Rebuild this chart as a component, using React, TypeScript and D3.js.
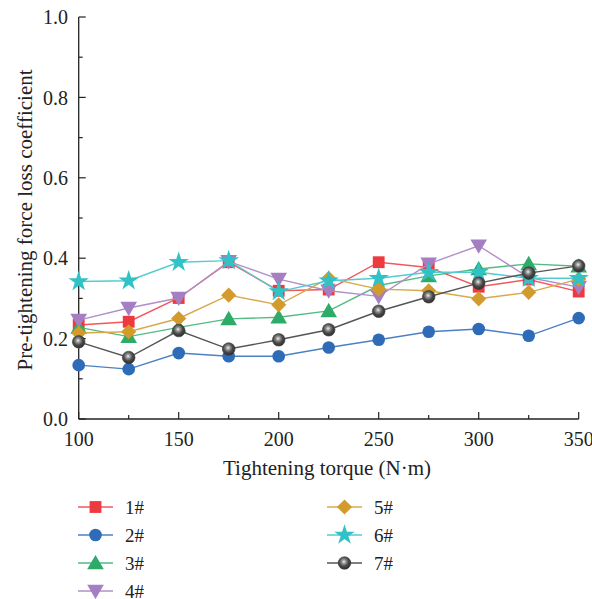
import React from "react";
import * as d3 from "d3";

const torques = [100, 125, 150, 175, 200, 225, 250, 275, 300, 325, 350];
const s1 = [0.234, 0.242, 0.301, 0.39, 0.319, 0.322, 0.39, 0.377, 0.329, 0.347, 0.317];
const s2 = [0.134, 0.124, 0.164, 0.156, 0.156, 0.178, 0.197, 0.217, 0.224, 0.207, 0.251];
const s3 = [0.228, 0.205, 0.228, 0.249, 0.253, 0.269, 0.332, 0.356, 0.373, 0.386, 0.38];
const s4 = [0.246, 0.276, 0.301, 0.392, 0.348, 0.319, 0.305, 0.386, 0.431, 0.352, 0.328];
const s5 = [0.214, 0.217, 0.25, 0.308, 0.284, 0.35, 0.323, 0.319, 0.299, 0.315, 0.348];
const s6 = [0.342, 0.344, 0.39, 0.394, 0.317, 0.344, 0.35, 0.365, 0.365, 0.35, 0.35];
const s7 = [0.192, 0.153, 0.22, 0.174, 0.197, 0.222, 0.268, 0.304, 0.338, 0.363, 0.381];
const seriesNames = ["1#", "2#", "3#", "4#", "5#", "6#", "7#"];
const seriesValues = [s1, s2, s3, s4, s5, s6, s7];
const xTicks = [100, 150, 200, 250, 300, 350];
const yTicks = [0, 0.2, 0.4, 0.6, 0.8, 1.0];

const colors = ["#ee3a3e", "#2f6cb8", "#2eab68", "#a57fc2", "#d29b2c", "#30c2c6", "#4a4a4a"];
const lineColors = ["#f0585b", "#4a80c4", "#52bb82", "#b08fcb", "#d8a94a", "#52ccd0", "#555555"];

const font = "'Liberation Serif', 'DejaVu Serif', serif";

function markerPath(i: number): { d: string; rot: number } {
  const sym = d3.symbol();
  switch (i) {
    case 0: return { d: sym.type(d3.symbolSquare).size(140)()!, rot: 0 };
    case 1: return { d: sym.type(d3.symbolCircle).size(125)()!, rot: 0 };
    case 2: return { d: sym.type(d3.symbolTriangle).size(120)()!, rot: 0 };
    case 3: return { d: sym.type(d3.symbolTriangle).size(120)()!, rot: 180 };
    case 4: return { d: sym.type(d3.symbolSquare).size(115)()!, rot: 45 };
    case 5: return { d: sym.type(d3.symbolStar).size(130)()!, rot: 0 };
    default: return { d: sym.type(d3.symbolCircle).size(125)()!, rot: 0 };
  }
}

function Marker({ i, x, y }: { i: number; x: number; y: number }) {
  const m = markerPath(i);
  const fill = i === 6 ? "url(#sphere)" : colors[i];
  const dy = i === 2 ? 1.5 : i === 3 ? -1.5 : 0;
  return (
    <path
      d={m.d}
      transform={`translate(${x},${y + dy}) rotate(${m.rot})`}
      fill={fill}
      stroke={i === 6 ? "#3a3a3a" : "none"}
      strokeWidth={0.6}
    />
  );
}

export default function App() {
  const W = 592, H = 599;
  const x = d3.scaleLinear().domain([100, 350]).range([78.7, 578.7]);
  const y = d3.scaleLinear().domain([0, 1]).range([419, 17]);
  const minorX = d3.range(125, 350, 50);
  const minorY = d3.range(0.1, 1.0, 0.2);
  const line = d3.line<number>().x((_, k) => x(torques[k])).y((v) => y(v));

  const legendItems = seriesNames.map((n, i) => {
    const col = i < 4 ? 0 : 1;
    const row = i < 4 ? i : i - 4;
    return { n, i, lx: col === 0 ? 78 : 327, ly: 507 + row * 28 };
  });

  return (
    <svg width={W} height={H} style={{ position: "absolute", left: 0, top: 0, background: "#fff" }} fontFamily={font}>
      <defs>
        <radialGradient id="sphere" cx="0.45" cy="0.4" r="0.6">
          <stop offset="0" stopColor="#f2f2f2" />
          <stop offset="0.25" stopColor="#9a9a9a" />
          <stop offset="0.6" stopColor="#4a4a4a" />
          <stop offset="1" stopColor="#2e2e2e" />
        </radialGradient>
      </defs>
      {/* axes */}
      <line x1={x(100)} x2={x(100)} y1={y(0)} y2={y(1)} stroke="#222" strokeWidth={1.3} />
      <line x1={x(100)} x2={x(350)} y1={y(0)} y2={y(0)} stroke="#222" strokeWidth={1.3} />
      {yTicks.map((t) => (
        <g key={"yt" + t}>
          <line x1={x(100)} x2={x(100) + 7} y1={y(t)} y2={y(t)} stroke="#222" strokeWidth={1.2} />
          <text x={68} y={y(t)} dy="0.36em" textAnchor="end" fontSize={20} fill="#222">{t.toFixed(1)}</text>
        </g>
      ))}
      {minorY.map((t) => (
        <line key={"ym" + t} x1={x(100)} x2={x(100) + 4} y1={y(t)} y2={y(t)} stroke="#222" strokeWidth={1.2} />
      ))}
      {xTicks.map((t) => (
        <g key={"xt" + t}>
          <line x1={x(t)} x2={x(t)} y1={y(0)} y2={y(0) - 7} stroke="#222" strokeWidth={1.2} />
          <text x={x(t)} y={446} textAnchor="middle" fontSize={20} fill="#222">{t}</text>
        </g>
      ))}
      {minorX.map((t) => (
        <line key={"xm" + t} x1={x(t)} x2={x(t)} y1={y(0)} y2={y(0) - 4} stroke="#222" strokeWidth={1.2} />
      ))}
      <text x={327} y={475} textAnchor="middle" fontSize={21} fill="#222">Tightening torque (N·m)</text>
      <text transform={`translate(32,220) rotate(-90)`} textAnchor="middle" fontSize={21} fill="#222">
        Pre-tightening force loss coefficient
      </text>
      {/* series */}
      {seriesValues.map((vals, i) => (
        <g key={"s" + i}>
          <path d={line(vals)!} fill="none" stroke={lineColors[i]} strokeWidth={1.4} />
          {vals.map((v, k) => (
            <Marker key={k} i={i} x={x(torques[k])} y={y(v)} />
          ))}
        </g>
      ))}
      {/* legend */}
      {legendItems.map((it) => (
        <g key={"lg" + it.i}>
          <line x1={it.lx} x2={it.lx + 35} y1={it.ly} y2={it.ly} stroke={lineColors[it.i]} strokeWidth={1.4} />
          <Marker i={it.i} x={it.lx + 17.5} y={it.ly} />
          <text x={it.lx + 47} y={it.ly} dy="0.35em" fontSize={19} fill="#222">{it.n}</text>
        </g>
      ))}
    </svg>
  );
}
